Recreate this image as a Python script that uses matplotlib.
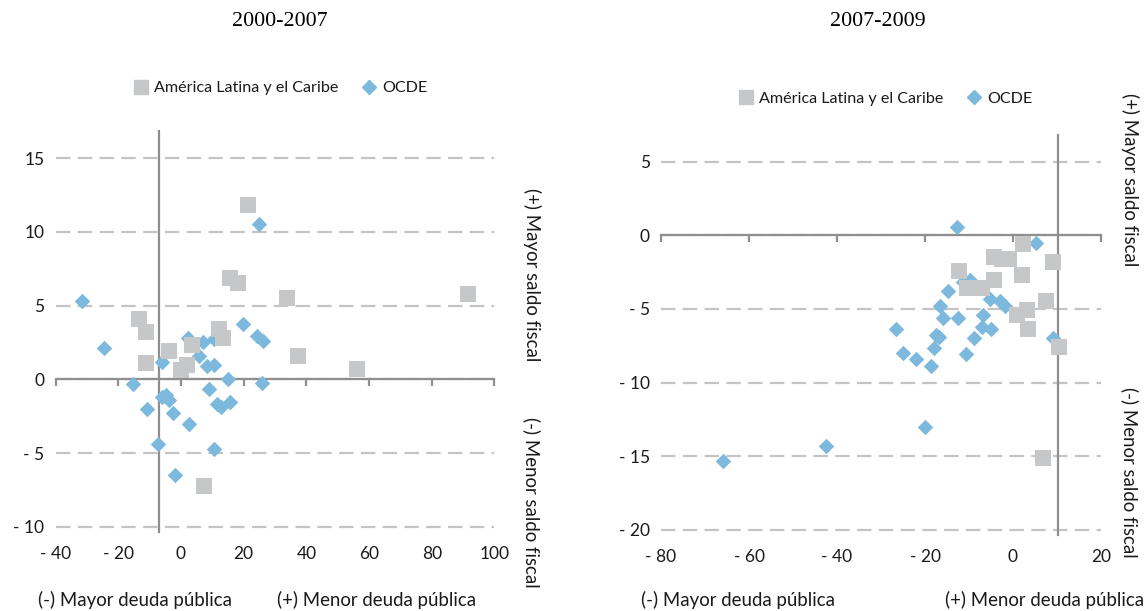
import matplotlib
matplotlib.use('Agg')
import matplotlib.pyplot as plt
from matplotlib.lines import Line2D

# ---------------- data ----------------
titles = ["2000-2007", "2007-2009"]
series_names = ["América Latina y el Caribe", "OCDE"]

left_alc_x = [-13.5, -11.3, -11.3, -3.8, 0.0, 2.0, 3.4, 12.1, 13.5, 7.3, 21.3, 15.6, 18.1, 33.9, 37.2, 56.2, 91.6]
left_alc_y = [4.1, 3.2, 1.1, 1.9, 0.6, 1.0, 2.3, 3.4, 2.8, -7.2, 11.8, 6.9, 6.5, 5.5, 1.6, 0.7, 5.8]

left_ocde_x = [-31.7, -24.7, -15.2, -10.9, -7.2, -6.2, -6.2, -4.9, -3.7, -2.5, -1.9, 2.1, 2.6, 5.8, 6.9,
               8.2, 8.9, 10.5, 10.5, 10.5, 11.4, 12.7, 15.1, 15.6, 19.9, 24.1, 24.9, 25.7, 26.3]
left_ocde_y = [5.3, 2.1, -0.3, -2.0, -4.4, 1.15, -1.2, -1.05, -1.4, -2.3, -6.5, 2.8, -3.0, 1.6, 2.5,
               0.9, -0.65, 1.0, 2.7, -4.75, -1.7, -1.85, 0.0, -1.55, 3.75, 2.95, 10.5, -0.27, 2.6]

right_alc_x = [2.2, -4.3, -2.5, -1.0, 9.2, -12.2, 2.0, -4.3, -10.5, -8.7, -7.0, 7.5, 3.1, 0.8, 3.5, 10.5, 6.8]
right_alc_y = [-0.57, -1.45, -1.6, -1.65, -1.8, -2.4, -2.7, -3.05, -3.6, -3.6, -3.6, -4.5, -5.05, -5.4, -6.4, -7.6, -15.1]

right_ocde_x = [-12.8, 5.2, -9.8, -11.3, -14.8, -16.7, -5.2, -3.0, -1.8, -16.0, -12.4, -6.75, -7.1, -5.1,
                -26.6, -17.6, -16.8, -18.0, -8.8, -24.9, -22.1, -18.7, -10.7, 9.0, -65.9, -42.5, -20.0]
right_ocde_y = [0.55, -0.52, -3.05, -3.2, -3.8, -4.8, -4.35, -4.5, -4.8, -5.65, -5.6, -5.45, -6.2, -6.35,
                -6.4, -6.8, -6.9, -7.65, -7.0, -8.0, -8.4, -8.85, -8.05, -7.0, -15.3, -14.3, -13.0]

left_xticks = [-40, -20, 0, 20, 40, 60, 80, 100]
left_yticks = [-10, -5, 0, 5, 10, 15]
right_xticks = [-80, -60, -40, -20, 0, 20]
right_yticks = [-20, -15, -10, -5, 0, 5]

xaxis_label_neg = "(-) Mayor deuda pública"
xaxis_label_pos = "(+) Menor deuda pública"
yaxis_label_pos = "(+) Mayor saldo fiscal"
yaxis_label_neg = "(-) Menor saldo fiscal"

# ---------------- style ----------------
plt.rcParams['font.family'] = ['Lato', 'DejaVu Sans']
W, H = 1145, 611
GRAY_SQ = '#C6C7C9'
BLUE = '#7DB9DD'
AXIS = '#8E8E8E'
GRID = '#C4C4C4'
TXT = '#1a1a1a'
FS_TICK = 12.5
FS_LAB = 13.4

fig = plt.figure(figsize=(W / 100, H / 100), dpi=100)


def fmt(v):
    return f"- {abs(v)}" if v < 0 else f"{v}"


def px_rect(x0, x1, y0, y1):
    return [x0 / W, 1 - y1 / H, (x1 - x0) / W, (y1 - y0) / H]


def panel(rect, xlim, ylim, xticks, yticks, vcross, ax_x, ax_y, oc_x, oc_y):
    ax = fig.add_axes(rect)
    ax.set_xlim(*xlim)
    ax.set_ylim(*ylim)
    for s in ['top', 'right']:
        ax.spines[s].set_visible(False)
    ax.spines['bottom'].set_position(('data', 0))
    ax.spines['left'].set_position(('data', vcross))
    for s in ['bottom', 'left']:
        ax.spines[s].set_color(AXIS)
        ax.spines[s].set_linewidth(1.6)
    ax.set_xticks(xticks)
    ax.set_yticks(yticks)
    ax.tick_params(axis='x', direction='out', length=5, width=1.6, color=AXIS, labelbottom=False)
    ax.tick_params(axis='y', length=0, labelleft=False)
    ax.yaxis.grid(True, color=GRID, linewidth=1.6, linestyle=(0, (6.5, 3.3)))
    ax.xaxis.grid(False)
    ax.set_axisbelow(True)

    ax.scatter(oc_x, oc_y, marker='D', s=62, color=BLUE, linewidths=0, zorder=3, clip_on=False)
    ax.scatter(ax_x, ax_y, marker='s', s=120, color=GRAY_SQ, linewidths=0, zorder=4, clip_on=False)

    sx = ax.secondary_xaxis('bottom')
    sx.set_xticks(xticks, [fmt(v) for v in xticks])
    sx.tick_params(length=0, pad=10, labelsize=FS_TICK, labelcolor=TXT)
    sx.spines['bottom'].set_visible(False)

    sy = ax.secondary_yaxis('left')
    sy.set_yticks(yticks, [fmt(v) for v in yticks])
    sy.tick_params(length=0, pad=8, labelsize=FS_TICK, labelcolor=TXT)
    sy.spines['left'].set_visible(False)
    return ax


# left panel: x -40..100 -> px 55.6..494.5 ; y 16.8..-10.35 -> px 131.5..532
axL = panel(px_rect(55.6, 494.5, 131.5, 532), (-40, 100), (-10.35, 16.8),
            left_xticks, left_yticks, -6.9, left_alc_x, left_alc_y, left_ocde_x, left_ocde_y)
# right panel: x -80..20 -> px 661..1101 ; y 6.8..-20.35 -> px 135..535
axR = panel(px_rect(661, 1101, 135, 535), (-80, 20), (-20.35, 6.8),
            right_xticks, right_yticks, 10.3, right_alc_x, right_alc_y, right_ocde_x, right_ocde_y)

# titles
for cx, t in zip([280, 878], titles):
    fig.text(cx / W, 1 - 22 / H, t, ha='center', va='center', fontsize=15.8,
             family=['Liberation Serif', 'DejaVu Serif'], color='black')

# legends
handles = [Line2D([], [], marker='s', ls='none', color=GRAY_SQ, markersize=9.5),
           Line2D([], [], marker='D', ls='none', color=BLUE, markersize=7.5)]
for cx, cy in [(281, 88), (886, 99)]:
    fig.legend(handles, series_names, loc='center', bbox_to_anchor=(cx / W, 1 - cy / H), ncol=2,
               frameon=False, fontsize=11.6, handlelength=0.8, handletextpad=0.4, columnspacing=1.5,
               labelcolor=TXT)

# side labels
for x, yc, t in [(532, 275, yaxis_label_pos), (532, 502, yaxis_label_neg),
                 (1130, 180, yaxis_label_pos), (1130, 472, yaxis_label_neg)]:
    fig.text(x / W, 1 - yc / H, t, rotation=270, ha='center', va='center', fontsize=FS_LAB, color=TXT)

# bottom labels
for x, t in [(135, xaxis_label_neg), (377, xaxis_label_pos), (738, xaxis_label_neg), (1045, xaxis_label_pos)]:
    fig.text(x / W, 1 - 600 / H, t, ha='center', va='center', fontsize=FS_LAB, color=TXT)

fig.savefig('out.png', dpi=100)
